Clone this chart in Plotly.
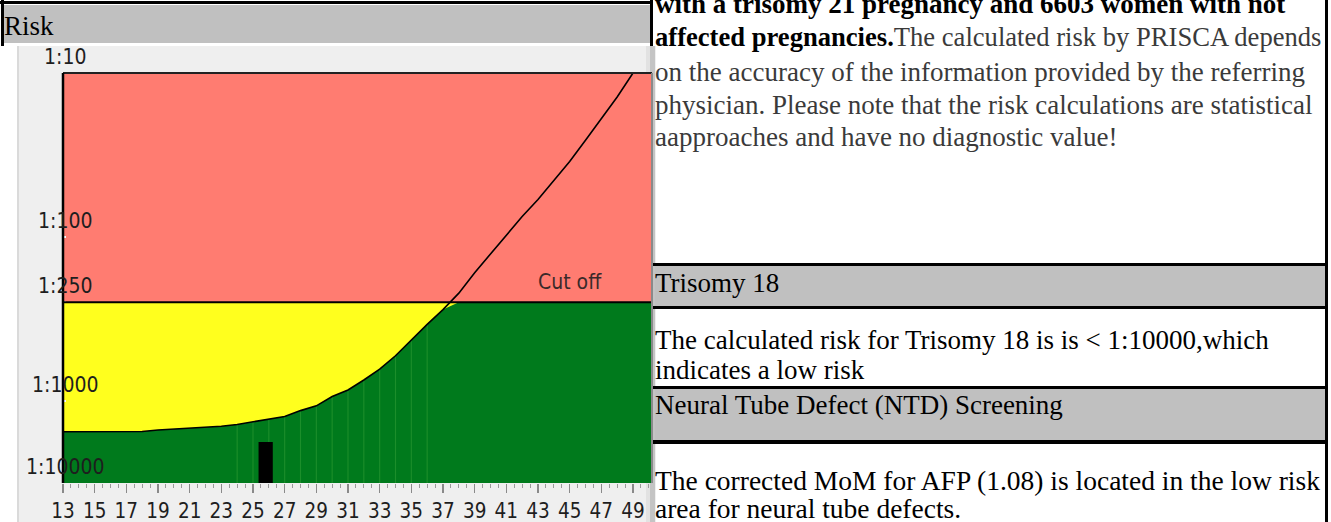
import numpy as np
import plotly.graph_objects as go

# ---------------- data ----------------
ages = list(range(13, 50))
risk_t21 = [2370, 2370, 2370, 2370, 2370, 2350, 2260, 2200, 2140, 2080,
            2030, 1930, 1790, 1660, 1545, 1310, 1145, 940, 857, 745,
            640, 530, 423, 341, 277, 220, 165, 127, 97, 75,
            59, 45.5, 34.6, 25.7, 19.1, 14, 10]
cutoff_risk = 250
patient_age = [25.8]
patient_risk = [3160]
stripe_ages = list(range(24, 37))
y_tick_risks = [10, 100, 250, 1000, 10000]
y_tick_labels = ["1:10", "1:100", "1:250", "1:1000", "1:10000"]
x_tick_vals = list(range(13, 50, 2))
x_range = [13, 50.2]

# ---------------- page geometry ----------------
W, H = 1331, 522
PLOT_L, PLOT_R, PLOT_T, PLOT_B = 63, 652, 73, 483

RED = "#ff7c71"
YELLOW = "#ffff1e"
GREEN = "#007a1c"
STRIPE = "#1c8e2b"
BAND = "#c0c0c0"
PANEL = "#efefef"
SANS = "Liberation Sans Narrow, DejaVu Sans Condensed, Arial Narrow, Liberation Sans, sans-serif"
SERIF = "Liberation Serif, Times New Roman, serif"


def pos(r):
    """Risk denominator -> chart scale (log, compressed below 1:1000)."""
    lg = np.log10(np.asarray(r, dtype=float))
    return np.where(lg <= 3, lg, 3 + (lg - 3) / 2)


def px(x):
    return x / W


def py(y):
    return 1 - y / H


def rect(x0, y0, x1, y1, color):
    return dict(type="rect", xref="paper", yref="paper",
                x0=px(x0), x1=px(x1), y0=py(y1), y1=py(y0),
                fillcolor=color, line_width=0, layer="below")


risk_arr = np.array(risk_t21, dtype=float)
curve_pos = pos(risk_arr)
green_top = pos(np.maximum(risk_arr, cutoff_risk))
cut_pos = float(pos(cutoff_risk))
bottom_pos = float(pos(max(y_tick_risks)))
top_pos = float(pos(min(y_tick_risks)))

fig = go.Figure()

# yellow band: between cutoff line and the risk curve (where the curve is below the cutoff)
fig.add_trace(go.Scatter(x=ages, y=[cut_pos] * len(ages), mode="lines",
                         line=dict(width=0), hoverinfo="skip", showlegend=False))
fig.add_trace(go.Scatter(x=ages, y=green_top, mode="lines", fill="tonexty",
                         fillcolor=YELLOW, line=dict(width=0),
                         hoverinfo="skip", showlegend=False))

# faint vertical stripes in the green region (thin bars up to the curve)
stripe_idx = [ages.index(a) for a in stripe_ages]
stripe_top = np.array([green_top[i] for i in stripe_idx])
fig.add_trace(go.Bar(x=stripe_ages, y=list(stripe_top - bottom_pos), base=bottom_pos,
                     width=0.07, marker=dict(color=STRIPE, line_width=0),
                     hoverinfo="skip", showlegend=False))

# patient marker bar
p_pos = pos(patient_risk)
fig.add_trace(go.Bar(x=patient_age, y=list(p_pos - bottom_pos), base=bottom_pos,
                     width=0.9, marker=dict(color="black", line_width=0),
                     hoverinfo="skip", showlegend=False))

# risk curve
fig.add_trace(go.Scatter(x=ages, y=curve_pos, mode="lines",
                         line=dict(color="black", width=1.6),
                         hoverinfo="skip", showlegend=False))

shapes = []
# chart panel and edges
shapes.append(rect(18, 46, 656, 522, PANEL))
shapes.append(rect(17, 46, 19, 522, "#dadada"))
shapes.append(rect(646, 46, 650, 522, "#e2e2e2"))
shapes.append(rect(650, 46, 655, 522, "#c4c4c4"))
# "Risk" header
shapes.append(rect(3, 5, 650, 43, BAND))
shapes.append(rect(0, 1, 653, 4, "black"))
shapes.append(rect(1, 0, 4, 46, "black"))
shapes.append(rect(650, 0, 653, 46, "black"))
# right column borders and bands
shapes.append(rect(1325, 0, 1328, 522, "black"))
shapes.append(rect(655, 266, 1325, 306, BAND))
shapes.append(rect(653, 263, 1328, 266, "black"))
shapes.append(rect(653, 306, 1328, 309, "black"))
shapes.append(rect(655, 389, 1325, 440, BAND))
shapes.append(rect(653, 386, 1328, 389, "black"))
shapes.append(rect(653, 440, 1328, 444, "black"))

# chart zones (red above cutoff, green below)
shapes.append(dict(type="rect", xref="x domain", yref="y domain", x0=0, x1=1, y0=0, y1=1,
                   fillcolor=RED, line_width=0, layer="below"))
shapes.append(dict(type="rect", xref="x domain", yref="y", x0=0, x1=1,
                   y0=cut_pos, y1=bottom_pos, fillcolor=GREEN, line_width=0, layer="below"))
# cutoff line
shapes.append(dict(type="line", xref="x domain", yref="y", x0=0, x1=1,
                   y0=cut_pos, y1=cut_pos, line=dict(color="black", width=2.2), layer="above"))
# frame
shapes.append(dict(type="line", xref="x domain", yref="y domain", x0=0, x1=1, y0=1, y1=1,
                   line=dict(color="#222", width=2), layer="above"))
shapes.append(dict(type="line", xref="x domain", yref="y domain", x0=1, x1=1, y0=0, y1=1,
                   line=dict(color="#8a8a8a", width=2), layer="above"))
shapes.append(dict(type="line", xref="x domain", yref="y domain", x0=0, x1=0, y0=0, y1=1,
                   line=dict(color="black", width=2.5), layer="above"))

annotations = []
# y labels (sit over the axis, above each tick)
for r, lab in zip(y_tick_risks, y_tick_labels):
    annotations.append(dict(x=px(65), xref="paper", y=float(pos(r)), yref="y",
                            text=lab, showarrow=False, xanchor="center", yanchor="middle",
                            yshift=16, font=dict(family=SANS, size=21, color="#1e1e1e")))
annotations.append(dict(x=45, xref="x", y=cut_pos, yref="y", text="Cut off",
                        showarrow=False, xanchor="center", yanchor="middle", yshift=20,
                        font=dict(family=SANS, size=21, color="#3a2a2a")))


def txt(x, y, text, size=27, color="black"):
    annotations.append(dict(x=px(x), y=py(y), xref="paper", yref="paper", text=text,
                            showarrow=False, xanchor="left", yanchor="middle",
                            font=dict(family=SERIF, size=size, color=color)))


txt(2, 26, "Risk", 27)
GR = "#3a3a3a"
txt(653, 4, "<b>with a trisomy 21 pregnancy and 6603 women with not</b>")
txt(653, 37, "<b>affected pregnancies.</b><span style='color:%s'>The calculated risk by PRISCA depends</span>" % GR, 26.6)
txt(653, 72, "on the accuracy of the information provided by the referring", color=GR)
txt(653, 105, "physician. Please note that the risk calculations are statistical", color=GR)
txt(653, 137, "aapproaches and have no diagnostic value!", color=GR)
txt(653, 283, "Trisomy 18")
txt(653, 340, "The calculated risk for Trisomy 18 is is &lt; 1:10000,which")
txt(653, 370, "indicates a low risk")
txt(653, 405, "Neural Tube Defect (NTD) Screening")
txt(653, 480, "The corrected MoM for AFP (1.08) is located in the low risk", 27.5)
txt(653, 508, "area for neural tube defects.", 27.5)

fig.update_layout(
    width=W, height=H, margin=dict(l=0, r=0, t=0, b=0, pad=0, autoexpand=False),
    paper_bgcolor="white", plot_bgcolor=PANEL, barmode="overlay",
    showlegend=False, shapes=shapes, annotations=annotations,
    xaxis=dict(domain=[px(PLOT_L), px(PLOT_R)], range=x_range, tickvals=x_tick_vals,
               ticks="outside", ticklen=9, tickwidth=1.5, tickcolor="#8a8a8a",
               minor=dict(dtick=0.5, tick0=13, ticks="outside", ticklen=4,
                          tickcolor="#9a9a9a", tickwidth=1),
               tickfont=dict(family=SANS, size=20.5, color="#1e1e1e"),
               showgrid=False, zeroline=False, showline=False, fixedrange=True,
               automargin=False),
    yaxis=dict(domain=[py(PLOT_B), py(PLOT_T)], range=[bottom_pos, top_pos],
               tickvals=list(pos(y_tick_risks)), showticklabels=False,
               ticks="inside", ticklen=3, tickwidth=2, tickcolor="white",
               showgrid=False, zeroline=False, showline=False, fixedrange=True,
               automargin=False),
)

fig.write_html("out.html", config={"displayModeBar": False, "staticPlot": True},
               post_script="document.body.style.margin='0px';document.body.style.overflow='hidden';")
